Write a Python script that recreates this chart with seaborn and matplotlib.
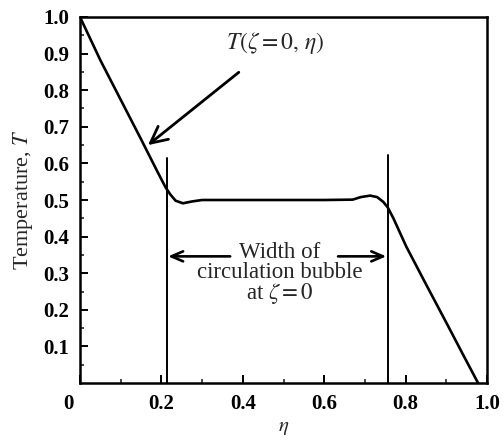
import numpy as np
import pandas as pd
import seaborn as sns
import matplotlib.pyplot as plt
import matplotlib.transforms as mtransforms

# Centreline temperature profile T(zeta=0, eta)
eta = [0.0, 0.05, 0.10, 0.15, 0.19, 0.21, 0.222, 0.235, 0.253,
       0.275, 0.30, 0.40, 0.50, 0.60, 0.67, 0.69, 0.713, 0.73, 0.745, 0.756,
       0.77, 0.802, 0.85, 0.90, 0.94, 0.978]
temp = [1.0, 0.882, 0.774, 0.666, 0.578, 0.535, 0.515, 0.498, 0.491,
        0.496, 0.50, 0.50, 0.50, 0.50, 0.501, 0.508, 0.512, 0.508, 0.495, 0.48,
        0.45, 0.372, 0.27, 0.165, 0.08, 0.0]

# Edges of the circulation bubble
bubble_eta = [0.213, 0.756]
bubble_top = [0.615, 0.623]

x_ticks = [0, 0.2, 0.4, 0.6, 0.8, 1.0]
x_ticklabels = ["0", "0.2", "0.4", "0.6", "0.8", "1.0"]
y_ticks = [0.1, 0.2, 0.3, 0.4, 0.5, 0.6, 0.7, 0.8, 0.9, 1.0]
y_ticklabels = ["0.1", "0.2", "0.3", "0.4", "0.5", "0.6", "0.7", "0.8", "0.9", "1.0"]

sns.set_theme(style="ticks")
plt.rcParams["font.family"] = ["Liberation Serif", "DejaVu Serif"]
plt.rcParams["mathtext.fontset"] = "stix"

fig = plt.figure(figsize=(5.03, 4.41), dpi=100)
ax = fig.add_axes([80 / 503, 1 - 383 / 441, 407 / 503, 366 / 441])

df = pd.DataFrame({"eta": eta, "T": temp})
sns.lineplot(data=df, x="eta", y="T", ax=ax, color="black", linewidth=1.9,
             sort=False, estimator=None)
ax.lines[-1].set_solid_joinstyle("round")

for xe, yt in zip(bubble_eta, bubble_top):
    ax.plot([xe, xe], [0, yt], color="black", linewidth=1.4)

ax.set_xlim(0, 1.0)
ax.set_ylim(0, 1.0)
ax.set_xticks(x_ticks)
ax.set_xticklabels(x_ticklabels)
ax.set_yticks(y_ticks)
ax.set_yticklabels(y_ticklabels)
ax.set_xticks(np.arange(0.1, 1.0, 0.2), minor=True)
ax.set_yticks(np.arange(0.05, 1.0, 0.1), minor=True)

ax.tick_params(axis="both", which="major", direction="in", length=6, width=1.4,
               labelsize=15, pad=8, colors="black")
ax.tick_params(axis="both", which="minor", direction="in", length=3, width=1.2)
for lab in ax.get_xticklabels() + ax.get_yticklabels():
    lab.set_fontweight("bold")
# shift the origin label a little to the left
first = ax.get_xticklabels()[0]
first.set_transform(first.get_transform() +
                    mtransforms.ScaledTranslation(-12 / 100, 0, fig.dpi_scale_trans))

for side in ["left", "right", "top", "bottom"]:
    ax.spines[side].set_visible(True)
    ax.spines[side].set_linewidth(1.8)
    ax.spines[side].set_color("black")

ax.set_xlabel(r"$\eta$", fontsize=15, labelpad=3)
ax.set_ylabel(r"Temperature, $T$", fontsize=16, labelpad=6)

# curve label with pointer
ax.annotate(r"$T(\zeta = 0,\, \eta)$", xy=(0.167, 0.65), xytext=(0.48, 0.929),
            fontsize=17, ha="center", va="center",
            arrowprops=dict(arrowstyle="->,head_length=0.7,head_width=0.35",
                            color="black", lw=2.0, shrinkA=15, shrinkB=0))

# bubble width label with two pointers
ax.text(0.49, 0.298, "Width of\ncirculation bubble\nat $\\zeta = 0$", fontsize=16.5,
        ha="center", va="center", linespacing=0.92)
arrow = dict(arrowstyle="->,head_length=0.7,head_width=0.3", color="black",
             lw=1.9, shrinkA=0, shrinkB=1)
ax.annotate("", xy=(bubble_eta[0], 0.346), xytext=(0.369, 0.346), arrowprops=arrow)
ax.annotate("", xy=(bubble_eta[1], 0.346), xytext=(0.634, 0.346), arrowprops=arrow)

fig.savefig("out.png", dpi=100, facecolor="white")
